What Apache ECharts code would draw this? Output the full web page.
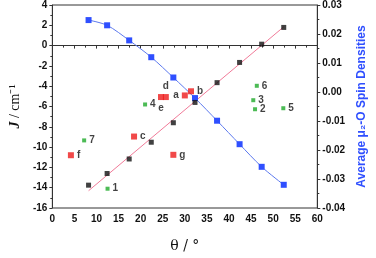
<!DOCTYPE html>
<html><head><meta charset="utf-8">
<script src="https://cdn.jsdelivr.net/npm/echarts@6/dist/echarts.min.js"></script>
<style>html,body{margin:0;padding:0;background:#fff}#c{width:376px;height:258px}</style>
</head><body><div id="c"></div>
<script>
// Data
const thetaGrid = [8.2, 12.4, 17.4, 22.4, 27.4, 32.3, 37.3, 42.4, 47.4, 52.4];
const spinDensity = [0.0248, 0.0230, 0.0178, 0.0120, 0.0050, -0.0021, -0.0099, -0.0180, -0.0258, -0.0320];
const jCalc = [-13.75, -12.6, -11.17, -9.52, -7.6, -5.6, -3.65, -1.66, 0.14, 1.79];
const fitX = [8.2, 52.4];
const fitJ = [-14.3, 1.85];
const redNames = ['a', 'b', 'c', 'd', 'e', 'f', 'g'];
const redX = [30.0, 31.4, 18.5, 25.7, 24.6, 4.2, 27.4];
const redJ = [-4.91, -4.5, -8.96, -5.07, -5.07, -10.8, -10.76];
const greenNames = ['1', '2', '3', '4', '5', '6', '7'];
const greenX = [12.5, 45.9, 45.5, 21.0, 52.3, 46.3, 7.2];
const greenJ = [-14.1, -6.27, -5.38, -5.8, -6.17, -3.96, -9.34];
const leftTicks = [-16, 4, 2];
const rightTicks = [-0.04, 0.03, 0.01];
const xTicks = [0, 60, 5];

const redPos = {a: 'left', b: 'right', c: 'right', d: 'top', e: 'bottom', f: 'right', g: 'right'};
const labelStyle = {show: true, color: '#111', fontWeight: 'bold', fontSize: 10, fontFamily: 'Arial, Liberation Sans, sans-serif', distance: 3};

const chart = echarts.init(document.getElementById('c'));
const axisCommon = {
  axisLine: {show: true, lineStyle: {color: '#333', width: 1}},
  axisTick: {show: true, inside: false, length: 3, lineStyle: {color: '#333'}},
  minorTick: {show: true, splitNumber: 2, length: 2, lineStyle: {color: '#333'}},
  splitLine: {show: false},
  axisLabel: {color: '#111', fontWeight: 'bold', fontSize: 10, fontFamily: 'Arial, Liberation Sans, sans-serif'}
};
chart.setOption({
  animation: false,
  grid: {left: 43, right: 49, top: 5, bottom: 42, show: true, borderColor: '#333', borderWidth: 1},
  xAxis: Object.assign({}, axisCommon, {
    type: 'value', min: xTicks[0], max: xTicks[1], interval: xTicks[2],
    axisLabel: Object.assign({}, axisCommon.axisLabel, {margin: 6}),
    name: 'θ / °', nameLocation: 'middle', nameGap: 31,
    nameTextStyle: {fontFamily: 'DejaVu Serif, Liberation Serif, serif', fontSize: 14, color: '#111'}
  }),
  yAxis: [
    Object.assign({}, axisCommon, {
      type: 'value', min: leftTicks[0], max: leftTicks[1], interval: leftTicks[2], position: 'left',
      axisLabel: Object.assign({}, axisCommon.axisLabel, {margin: 5}),
      name: '{j|J}{n| / cm⁻¹}', nameLocation: 'middle', nameGap: 26, nameRotate: 90,
      nameTextStyle: {rich: {
        j: {fontFamily: 'Liberation Serif, serif', fontStyle: 'italic', fontWeight: 'bold', fontSize: 14, color: '#111'},
        n: {fontFamily: 'Liberation Serif, serif', fontSize: 14, color: '#111'}
      }}
    }),
    Object.assign({}, axisCommon, {
      type: 'value', min: rightTicks[0], max: rightTicks[1], interval: rightTicks[2], position: 'right',
      axisLabel: Object.assign({}, axisCommon.axisLabel, {margin: 5, formatter: v => v.toFixed(2)}),
      name: 'Average μ₂-O Spin Densities', nameLocation: 'middle', nameGap: 38, nameRotate: 90,
      nameTextStyle: {color: '#2f4fff', fontWeight: 'bold', fontSize: 12, fontFamily: 'Arial, Liberation Sans, sans-serif'}
    })
  ],
  series: [
    {type: 'line', yAxisIndex: 0, data: fitX.map((x, i) => [x, fitJ[i]]), symbol: 'none',
      lineStyle: {color: '#f07a98', width: 1}, z: 1},
    {type: 'line', yAxisIndex: 1, smooth: 0.3, data: thetaGrid.map((x, i) => [x, spinDensity[i]]),
      symbol: 'rect', symbolSize: 6, itemStyle: {color: '#2f4fff'}, lineStyle: {color: '#5b78ee', width: 1}, z: 2},
    {type: 'scatter', yAxisIndex: 0, data: thetaGrid.map((x, i) => [x, jCalc[i]]),
      symbol: 'rect', symbolSize: 5, itemStyle: {color: '#111'}, z: 3},
    {type: 'scatter', yAxisIndex: 0,
      data: redX.map((x, i) => ({value: [x, redJ[i]], name: redNames[i],
        label: Object.assign({}, labelStyle, {position: redPos[redNames[i]], formatter: redNames[i]})})),
      symbol: 'rect', symbolSize: 6, itemStyle: {color: '#ee1c1c'}, z: 4},
    {type: 'scatter', yAxisIndex: 0,
      data: greenX.map((x, i) => ({value: [x, greenJ[i]], name: greenNames[i],
        label: Object.assign({}, labelStyle, {position: 'right', formatter: greenNames[i]})})),
      symbol: 'rect', symbolSize: 4, itemStyle: {color: '#1faa2a'}, z: 4}
  ]
});
</script></body></html>
